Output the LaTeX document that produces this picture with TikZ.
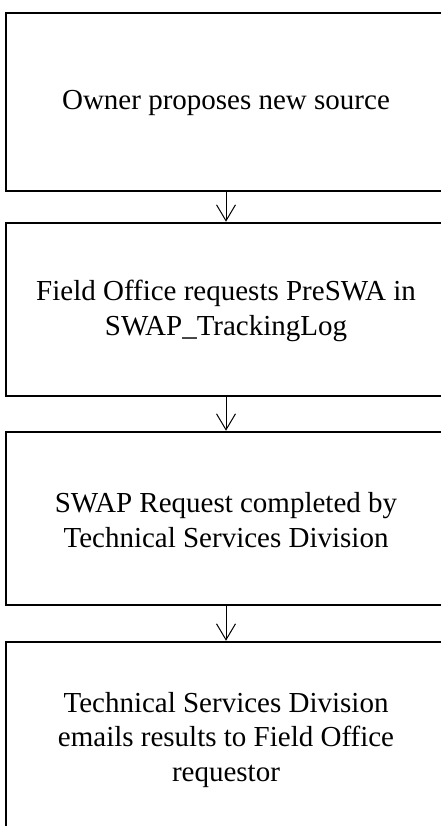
\documentclass[tikz,border=0pt]{standalone}
\usepackage{fontspec}
\setmainfont{Liberation Serif}
\usetikzlibrary{arrows.meta}
\begin{document}
\begin{tikzpicture}[x=1pt,y=-1pt,
  stepbox/.style={draw, line width=2.5pt, minimum width=460pt, inner sep=0pt},
  steptext/.style={inner sep=0pt, align=center, font=\fontsize{29}{34.5}\selectfont},
  flow/.style={line width=1pt, -{Straight Barb[length=16pt,width=19pt,line width=1pt]}}]
\useasboundingbox (0,0) rectangle (441,826);
\node[stepbox, minimum height=178pt] (b1) at (236,102) {};
\node[stepbox, minimum height=173pt] (b2) at (236,309.5) {};
\node[stepbox, minimum height=173pt] (b3) at (236,518.5) {};
\node[stepbox, minimum height=194pt] (b4) at (236,739) {};
\node[steptext] (t1) at (226,103) {Owner proposes new source};
\node[steptext] (t2) at (226,311) {Field Office requests PreSWA in\\SWAP\_TrackingLog};
\node[steptext] (t3) at (226,520) {SWAP Request completed by\\Technical Services Division};
\node[steptext] (t4) at (226,740) {Technical Services Division\\emails results to Field Office\\requestor};
\coordinate (a1s) at (226,191);
\coordinate (a2s) at (226,396);
\coordinate (a3s) at (226,605);
\draw[flow] (a1s) -- (a1s |- b2.north);
\draw[flow] (a2s) -- (a2s |- b3.north);
\draw[flow] (a3s) -- (a3s |- b4.north);
\end{tikzpicture}
\end{document}
